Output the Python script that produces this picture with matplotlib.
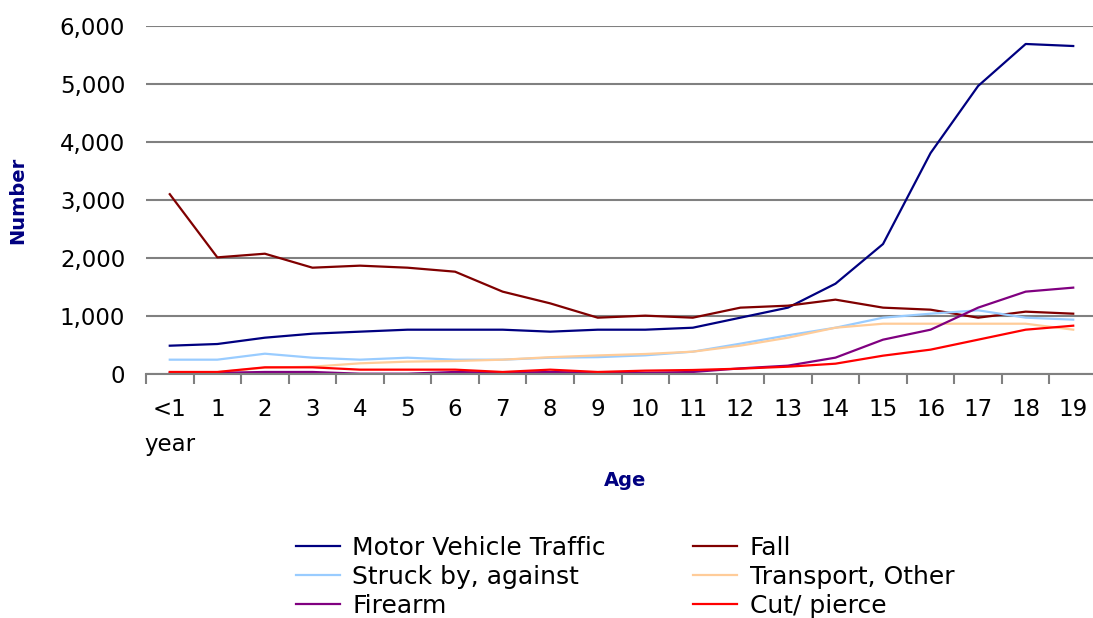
import matplotlib
matplotlib.use("Agg")
import matplotlib.pyplot as plt
import numpy as np

ages = ["<1\nyear", "1", "2", "3", "4", "5", "6", "7", "8", "9", "10",
        "11", "12", "13", "14", "15", "16", "17", "18", "19"]

motor_vehicle = [488, 517, 626, 695, 730, 764, 764, 764, 730, 764, 764,
                 798, 971, 1144, 1557, 2241, 3810, 4966, 5690, 5655]
fall = [3100, 2011, 2074, 1833, 1868, 1833, 1764, 1420, 1218, 971, 1006,
        971, 1144, 1178, 1282, 1144, 1109, 971, 1075, 1040]
struck = [247, 247, 350, 281, 247, 281, 247, 247, 281, 290, 322,
          385, 523, 667, 798, 971, 1040, 1098, 971, 937]
transport = [30, 30, 109, 126, 184, 213, 224, 247, 290, 320, 345,
             385, 489, 626, 798, 867, 867, 867, 867, 764]
firearm = [20, 20, 35, 35, 5, 5, 35, 20, 35, 20, 20,
           35, 97, 144, 282, 592, 764, 1144, 1420, 1489]
cut_pierce = [35, 35, 115, 115, 75, 75, 75, 35, 75, 35, 58,
              69, 92, 126, 178, 316, 420, 592, 764, 833]

series = [
    ("Motor Vehicle Traffic", motor_vehicle, "#000080"),
    ("Fall", fall, "#800000"),
    ("Struck by, against", struck, "#99CCFF"),
    ("Transport, Other", transport, "#FFCC99"),
    ("Firearm", firearm, "#800080"),
    ("Cut/ pierce", cut_pierce, "#FF0000"),
]

W, H = 1093, 618
fig = plt.figure(figsize=(W / 100, H / 100), dpi=100)
ax = fig.add_axes([146 / W, 1 - 374 / H, 951 / W, 348 / H])

x = np.arange(len(ages))
handles = {}
for name, vals, col in series:
    (ln,) = ax.plot(x, vals, color=col, lw=1.6, label=name)
    handles[name] = ln

ax.set_xlim(-0.5, len(ages) - 0.5)
ax.set_ylim(0, 6000)
ax.set_yticks(np.arange(0, 6001, 1000))
ax.set_yticklabels([f"{v:,}" for v in range(0, 6001, 1000)])
ax.yaxis.grid(True, color="#808080", lw=1.5)
ax.set_axisbelow(True)

ax.set_xticks(x)
ax.set_xticklabels(ages, linespacing=1.7)
ax.set_xticks(np.arange(-0.5, len(ages), 1), minor=True)
ax.tick_params(axis="x", which="major", length=0, pad=17, labelsize=16.5)
ax.tick_params(axis="x", which="minor", length=7, width=1.5, color="#808080", direction="out")
ax.tick_params(axis="y", length=0, pad=15, labelsize=16.5)

for s in ["top", "right", "left"]:
    ax.spines[s].set_visible(False)
ax.spines["bottom"].set_color("#808080")
ax.spines["bottom"].set_linewidth(1.5)

fig.text(18 / W, 1 - 200 / H, "Number", rotation=90, ha="center", va="center",
         fontsize=14, fontweight="bold", color="#000080")
fig.text(625 / W, 1 - 480 / H, "Age", ha="center", va="center",
         fontsize=14, fontweight="bold", color="#000080")

order = ["Motor Vehicle Traffic", "Struck by, against", "Firearm",
         "Fall", "Transport, Other", "Cut/ pierce"]
leg = fig.legend([handles[n] for n in order], order, ncol=2, frameon=False,
                 loc="upper left", bbox_to_anchor=(296 / W, 1 - 536 / H),
                 fontsize=18, handlelength=1.75, handletextpad=0.5,
                 columnspacing=3.5, labelspacing=0.2, borderpad=0, borderaxespad=0)

fig.savefig("out.png", dpi=100)
